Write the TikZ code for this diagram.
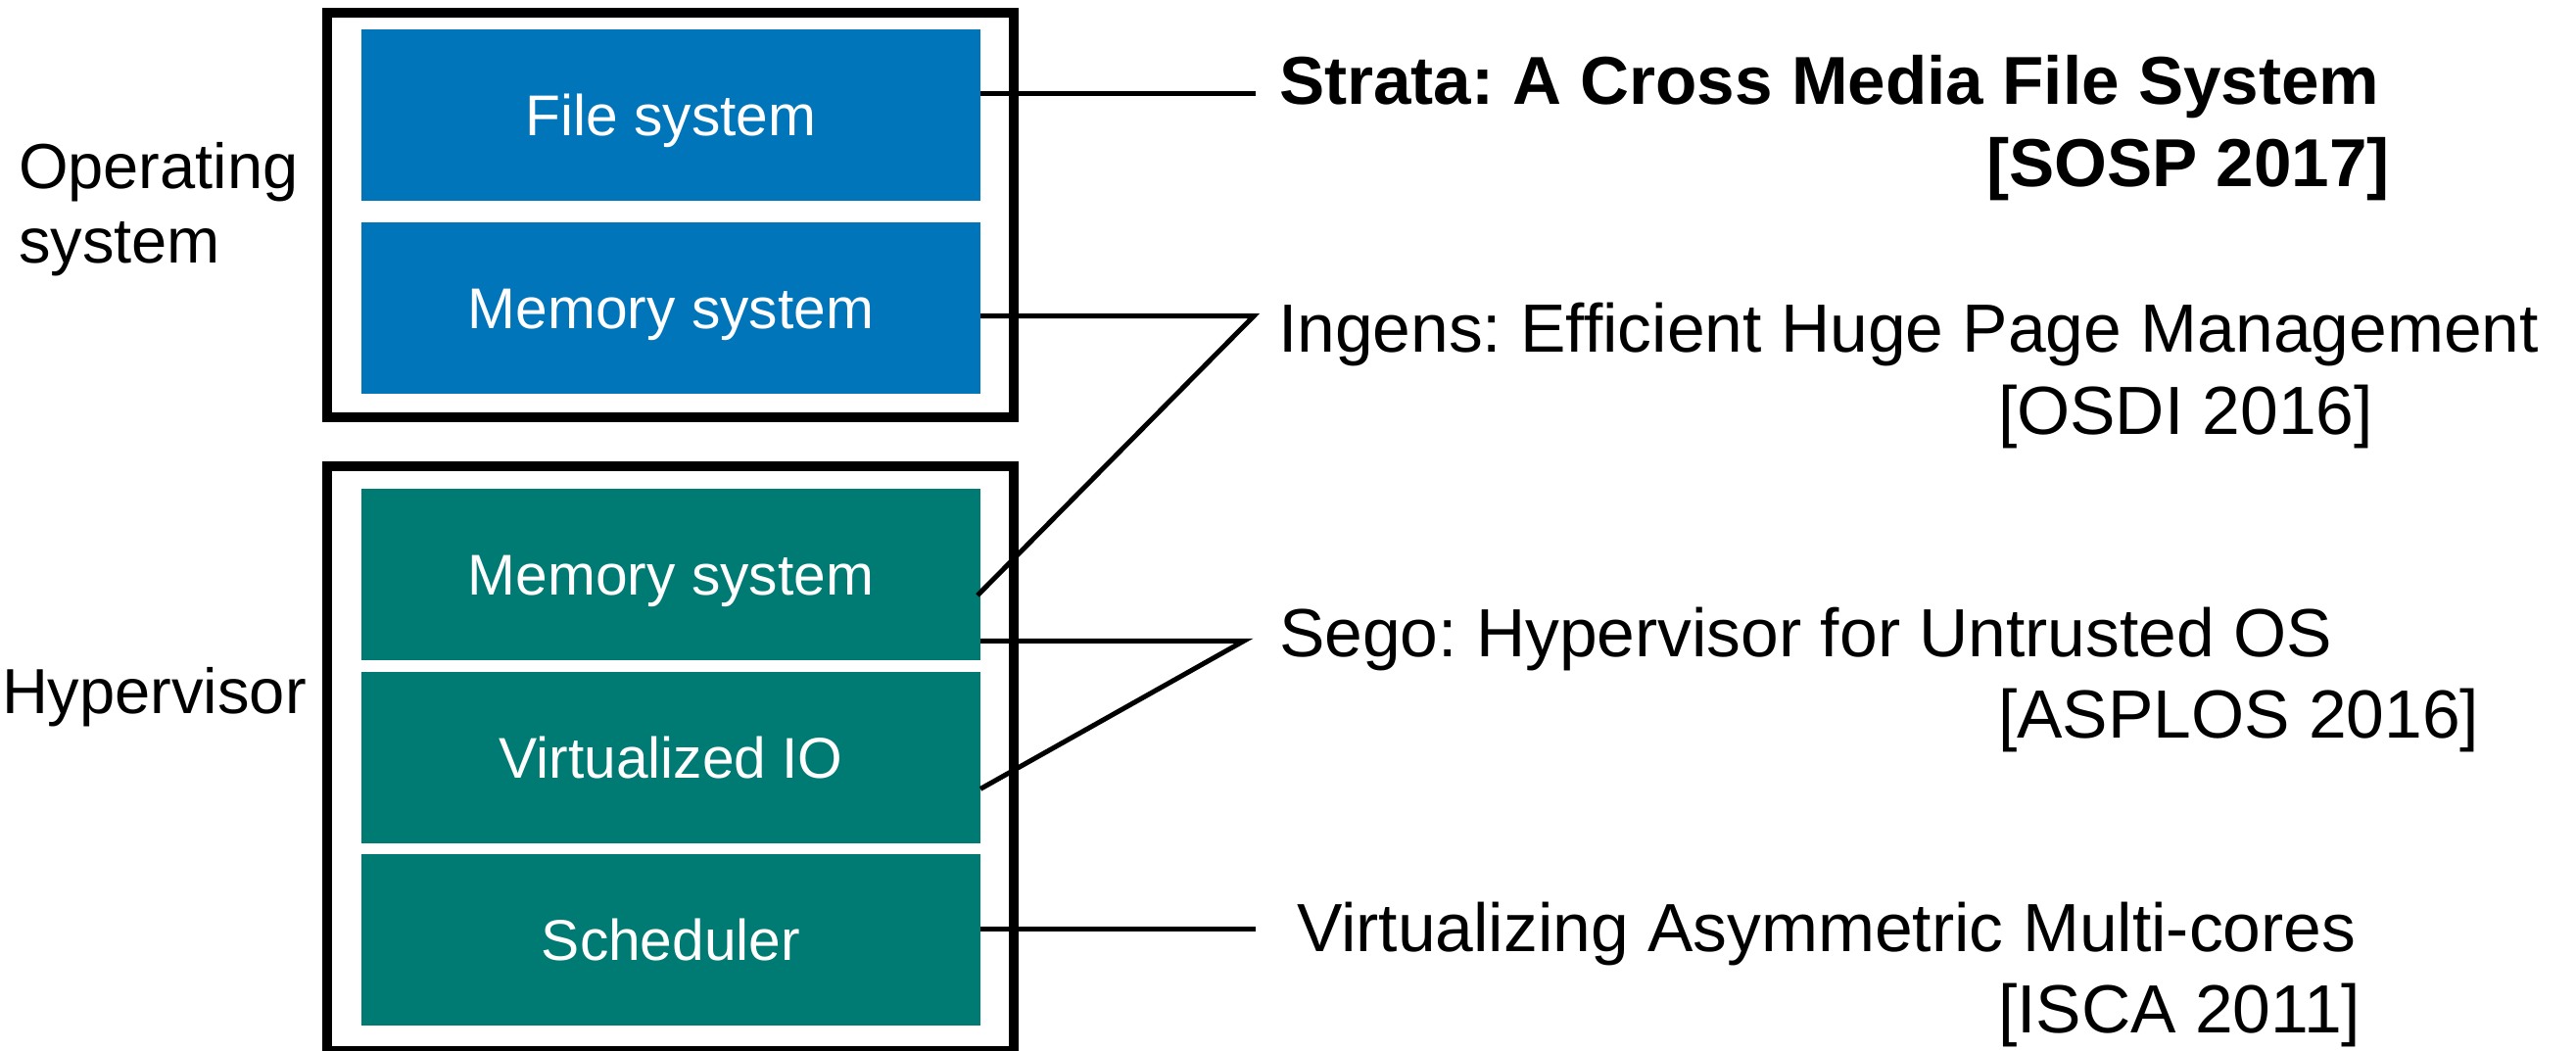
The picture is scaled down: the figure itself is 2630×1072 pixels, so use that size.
\documentclass[tikz,border=0pt]{standalone}
\usepackage{fontspec}
\setmainfont{Liberation Sans}
\usetikzlibrary{positioning,calc}

\definecolor{osblue}{RGB}{0,117,186}
\definecolor{hvteal}{RGB}{0,123,116}

\frenchspacing

\begin{document}
\begin{tikzpicture}[
  x=0.1mm, y=-0.1mm,
  every node/.style={inner sep=0pt, outer sep=0pt},
  frame/.style={draw=black, line width=1mm, minimum width=70.07mm},
  layer/.style={minimum width=63.2mm, minimum height=17.5mm, text=white,
                text height=12pt, text depth=0pt,
                font=\fontsize{16.7}{20}\selectfont},
  oslayer/.style={layer, fill=osblue},
  hvlayer/.style={layer, fill=hvteal},
  side/.style={font=\fontsize{18.5}{21.5}\selectfont, align=left, anchor=base west},
  paper/.style={font=\fontsize{19.8}{23.7}\selectfont, anchor=base west},
  link/.style={draw=black, line width=0.5mm},
]
\useasboundingbox (0,0) rectangle (2630,1072);

%% outer frames
\node[frame, minimum height=41.3mm] (os) at (684.65,219.5) {};
\node[frame, minimum height=59.7mm] (hv) at (684.65,774.5) {};

%% OS layers
\node[oslayer] (fs) at (685,117.9) {File system};
\node[oslayer, below=2.13mm of fs] (osmem) {Memory system};

%% hypervisor layers
\node[hvlayer] (hvmem) at (685,586.4) {Memory system};
\node[hvlayer, below=1.17mm of hvmem] (vio) {Virtualized IO};
\node[hvlayer, below=1.17mm of vio] (sched) {Scheduler};

%% labels on the left (base = last line)
\node[side] (oslbl) at (19,268) {Operating\\system};
\node[side] (hvlbl) at (2,728.6) {Hypervisor};

%% papers
\node[paper, font=\fontsize{19.7}{23.7}\selectfont\bfseries] (strata) at (1306,106.7)
  {Strata: A Cross Media File System};
\node[paper, font=\fontsize{19.7}{23.7}\selectfont\bfseries] (strataconf) at (2028,190)
  {[SOSP 2017]};
\node[paper] (ingens) at (1305,359.5) {Ingens: Efficient Huge Page Management};
\node[paper] (ingensconf) at (2040,443) {[OSDI 2016]};
\node[paper] (sego) at (1306,670) {Sego: Hypervisor for Untrusted OS};
\node[paper] (segoconf) at (2040,753.8) {[ASPLOS 2016]};
\node[paper] (vam) at (1324,971.6) {Virtualizing Asymmetric Multi-cores};
\node[paper] (vamconf) at (2040,1054) {[ISCA 2011]};

%% bend points in front of the titles
\coordinate (kstrata) at (1282,95.7);
\coordinate (kingens) at (1280,322.7);
\coordinate (ksego) at (1270,654.3);
\coordinate (kvam) at (1282,948);

%% connectors
\draw[link] (fs.east |- kstrata) -- (kstrata);
\draw[link] (osmem.east |- kingens) -- (kingens) -- ($(hvmem.east)+(-3,21.4)$);
\draw[link] (hvmem.east |- ksego) -- (ksego) -- ($(vio.east)+(0,32.3)$);
\draw[link] (sched.east |- kvam) -- (kvam);

\end{tikzpicture}
\end{document}
